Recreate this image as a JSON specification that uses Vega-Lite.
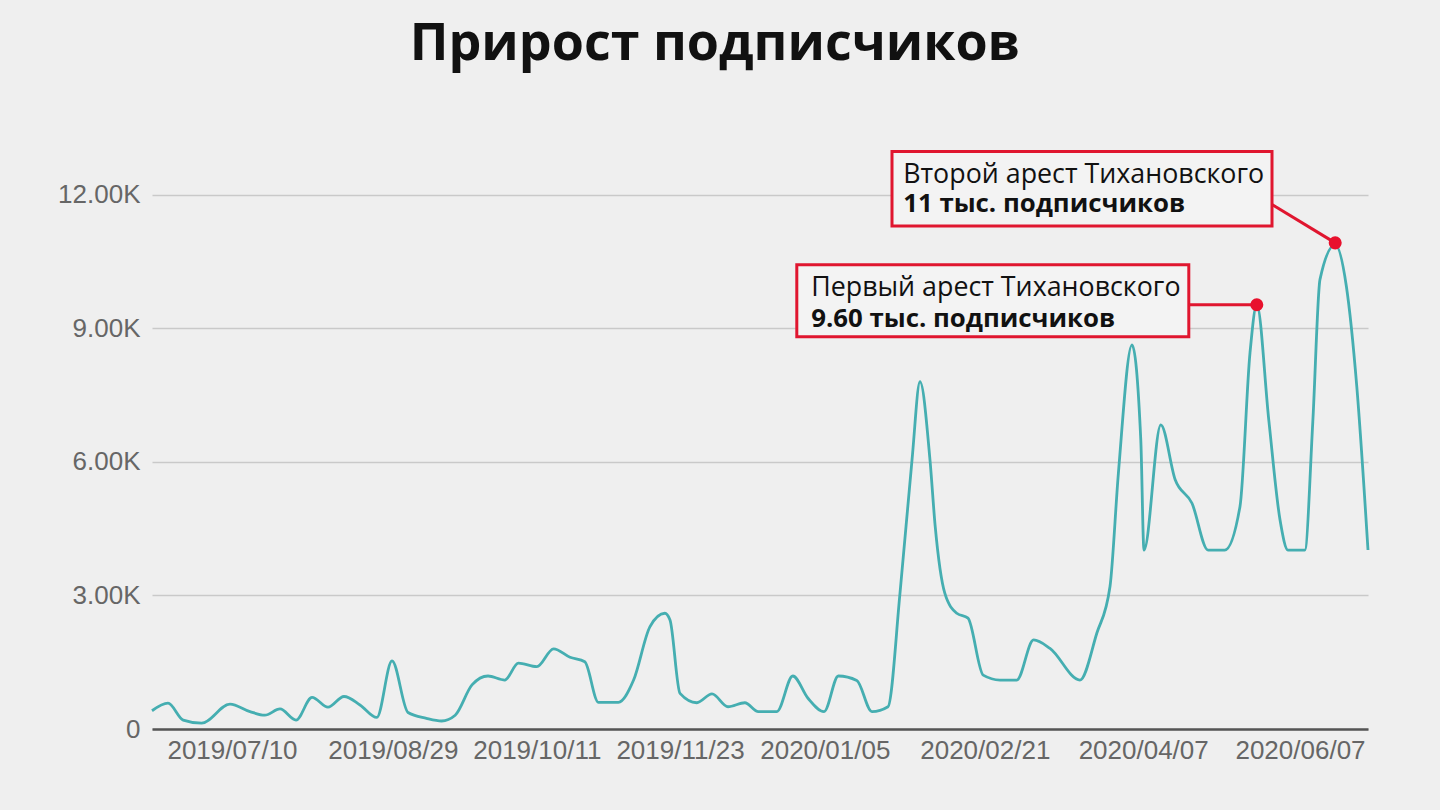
{
  "$schema": "https://vega.github.io/schema/vega-lite/v6.json",
  "autosize": {"type": "none"},
  "width": 1216,
  "height": 601,
  "padding": {"left": 152, "top": 128, "right": 72, "bottom": 81},
  "background": "#efefef",
  "title": {
    "text": "Прирост подписчиков",
    "font": "Open Sans",
    "fontWeight": "bold",
    "fontSize": 52,
    "color": "#111111",
    "anchor": "middle",
    "frame": "group",
    "baseline": "alphabetic",
    "dx": -45,
    "offset": 16
  },
  "config": {"view": {"stroke": null}},
  "datasets": {
    "series": [
      {"t": 0, "v": 410}, {"t": 2.0, "v": 580}, {"t": 3.9, "v": 200}, {"t": 6.2, "v": 130},
      {"t": 9.75, "v": 560}, {"t": 12.25, "v": 390}, {"t": 14.1, "v": 310}, {"t": 16, "v": 450},
      {"t": 18, "v": 200}, {"t": 20, "v": 710}, {"t": 22, "v": 490}, {"t": 24, "v": 730},
      {"t": 26, "v": 540}, {"t": 28.1, "v": 260}, {"t": 30, "v": 1530}, {"t": 32, "v": 370},
      {"t": 34.3, "v": 240}, {"t": 36.2, "v": 180}, {"t": 37.9, "v": 310}, {"t": 40, "v": 990},
      {"t": 42, "v": 1190}, {"t": 44.1, "v": 1100}, {"t": 45.8, "v": 1480}, {"t": 48.1, "v": 1400},
      {"t": 50.2, "v": 1800}, {"t": 52.25, "v": 1610}, {"t": 54.1, "v": 1510}, {"t": 55.8, "v": 600},
      {"t": 58.3, "v": 600}, {"t": 60.2, "v": 1100}, {"t": 62.25, "v": 2300}, {"t": 64.1, "v": 2600},
      {"t": 64.75, "v": 2450}, {"t": 66, "v": 800}, {"t": 68.1, "v": 590}, {"t": 70, "v": 790},
      {"t": 72, "v": 500}, {"t": 74.1, "v": 590}, {"t": 75.8, "v": 390}, {"t": 78.1, "v": 390},
      {"t": 80.1, "v": 1190}, {"t": 82, "v": 690}, {"t": 84, "v": 390}, {"t": 85.8, "v": 1190},
      {"t": 88.1, "v": 1090}, {"t": 90, "v": 390}, {"t": 92, "v": 500}, {"t": 93.5, "v": 3050},
      {"t": 95, "v": 6040}, {"t": 96, "v": 7800}, {"t": 97.25, "v": 6040}, {"t": 97.9, "v": 4550},
      {"t": 99.1, "v": 3050}, {"t": 100.6, "v": 2600}, {"t": 102, "v": 2490}, {"t": 103.9, "v": 1210},
      {"t": 106, "v": 1100}, {"t": 108.1, "v": 1100}, {"t": 110.2, "v": 2000}, {"t": 112.25, "v": 1810},
      {"t": 116, "v": 1100}, {"t": 118.1, "v": 2150}, {"t": 119.75, "v": 3200}, {"t": 120.8, "v": 5750},
      {"t": 122.5, "v": 8630}, {"t": 123.6, "v": 6490}, {"t": 124.0, "v": 4020}, {"t": 126.1, "v": 6830},
      {"t": 127.9, "v": 5600}, {"t": 130, "v": 5070}, {"t": 132, "v": 4020}, {"t": 134.1, "v": 4020},
      {"t": 136, "v": 5000}, {"t": 137.25, "v": 8450}, {"t": 138.1, "v": 9530}, {"t": 139.6, "v": 6940},
      {"t": 141, "v": 4700}, {"t": 142, "v": 4020}, {"t": 144.1, "v": 4020}, {"t": 145.1, "v": 6900},
      {"t": 146, "v": 10100}, {"t": 147.9, "v": 10880}, {"t": 149.3, "v": 9940}, {"t": 150.6, "v": 7690},
      {"t": 152, "v": 4020}
    ],
    "boxes": [
      {"t1": 80.6, "t2": 129.6, "v1": 8810, "v2": 10430},
      {"t1": 92.5, "t2": 140.0, "v1": 11300, "v2": 12970}
    ],
    "connectors": [
      {"t1": 129.6, "t2": 138.1, "v1": 9530, "v2": 9530},
      {"t1": 140.0, "t2": 147.9, "v1": 11780, "v2": 10920}
    ],
    "dots": [
      {"t": 138.1, "v": 9530},
      {"t": 147.9, "v": 10920}
    ],
    "notes": [
      {"t": 82.4, "v": 9730, "label": "Первый арест Тихановского", "bold": false},
      {"t": 82.4, "v": 9030, "label": "9.60 тыс. подписчиков", "bold": true},
      {"t": 93.9, "v": 12270, "label": "Второй арест Тихановского", "bold": false},
      {"t": 93.9, "v": 11620, "label": "11 тыс. подписчиков", "bold": true}
    ]
  },
  "layer": [
    {
      "data": {"name": "series"},
      "mark": {"type": "line", "interpolate": "monotone", "color": "#45aeb1", "strokeWidth": 2.8},
      "encoding": {
        "x": {
          "field": "t", "type": "quantitative",
          "scale": {"domain": [0, 152], "nice": false, "zero": false},
          "axis": {
            "title": null,
            "values": [10, 30.1, 48.1, 66, 84.1, 104.1, 123.9, 143.5],
            "labelExpr": "datum.value == 10 ? '2019/07/10' : datum.value == 30.1 ? '2019/08/29' : datum.value == 48.1 ? '2019/10/11' : datum.value == 66 ? '2019/11/23' : datum.value == 84.1 ? '2020/01/05' : datum.value == 104.1 ? '2020/02/21' : datum.value == 123.9 ? '2020/04/07' : '2020/06/07'",
            "grid": false,
            "ticks": false,
            "domain": true,
            "domainColor": "#555555",
            "domainWidth": 2.5,
            "labelFont": "Liberation Sans",
            "labelFontSize": 26,
            "labelColor": "#666666",
            "labelPadding": 8,
            "labelFlush": false,
            "labelOverlap": false
          }
        },
        "y": {
          "field": "v", "type": "quantitative",
          "scale": {"domain": [0, 13500], "nice": false},
          "axis": {
            "title": null,
            "values": [0, 3000, 6000, 9000, 12000],
            "labelExpr": "datum.value == 0 ? '0' : format(datum.value / 1000, '.2f') + 'K'",
            "grid": true,
            "gridColor": "#c9c9c9",
            "gridWidth": 1.5,
            "ticks": false,
            "domain": false,
            "labelFont": "Liberation Sans",
            "labelFontSize": 26,
            "labelColor": "#666666",
            "labelPadding": 12
          }
        }
      }
    },
    {
      "data": {"name": "boxes"},
      "mark": {"type": "rect", "fill": "#f3f3f3", "stroke": "#e0162f", "strokeWidth": 3},
      "encoding": {
        "x": {"field": "t1", "type": "quantitative", "scale": {"domain": [0, 152], "nice": false, "zero": false}},
        "x2": {"field": "t2"},
        "y": {"field": "v1", "type": "quantitative", "scale": {"domain": [0, 13500], "nice": false}},
        "y2": {"field": "v2"}
      }
    },
    {
      "data": {"name": "connectors"},
      "mark": {"type": "rule", "color": "#e0162f", "strokeWidth": 3},
      "encoding": {
        "x": {"field": "t1", "type": "quantitative"},
        "x2": {"field": "t2"},
        "y": {"field": "v1", "type": "quantitative"},
        "y2": {"field": "v2"}
      }
    },
    {
      "data": {"name": "dots"},
      "mark": {"type": "circle", "color": "#e8112d", "opacity": 1, "size": 170},
      "encoding": {
        "x": {"field": "t", "type": "quantitative"},
        "y": {"field": "v", "type": "quantitative"}
      }
    },
    {
      "data": {"name": "notes"},
      "transform": [{"filter": "!datum.bold"}],
      "mark": {"type": "text", "align": "left", "baseline": "alphabetic", "font": "Open Sans", "fontSize": 26.8, "color": "#111111"},
      "encoding": {
        "x": {"field": "t", "type": "quantitative"},
        "y": {"field": "v", "type": "quantitative"},
        "text": {"field": "label"}
      }
    },
    {
      "data": {"name": "notes"},
      "transform": [{"filter": "datum.bold"}],
      "mark": {"type": "text", "align": "left", "baseline": "alphabetic", "font": "Open Sans", "fontSize": 25.8, "fontWeight": "bold", "color": "#111111"},
      "encoding": {
        "x": {"field": "t", "type": "quantitative"},
        "y": {"field": "v", "type": "quantitative"},
        "text": {"field": "label"}
      }
    }
  ]
}
